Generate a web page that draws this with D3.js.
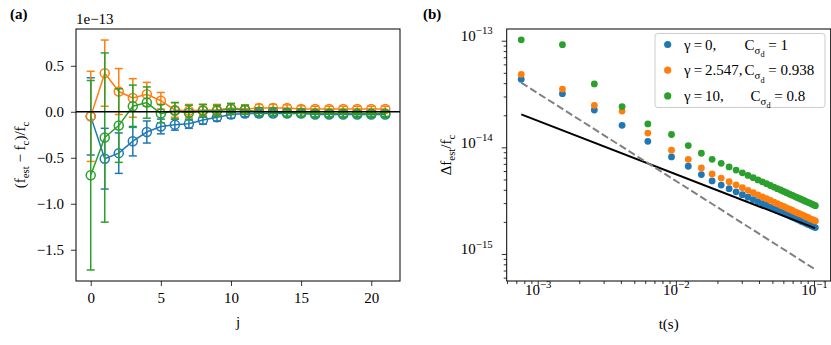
<!DOCTYPE html>
<html>
<head>
    <meta charset="utf-8">
    <title>chart</title>
</head>
<body style="margin:0">
    <script src="https://cdn.jsdelivr.net/npm/d3@7/dist/d3.min.js"></script>
    <script>
        // ---- panel (a): (f_est - f_c)/f_c in units of 1e-13 ----
        var jVals = [0, 1, 2, 3, 4, 5, 6, 7, 8, 9, 10, 11, 12, 13, 14, 15, 16, 17, 18, 19, 20, 21];
        var blueA = [-0.05, -0.51, -0.45, -0.32, -0.22, -0.16, -0.14, -0.13, -0.09, -0.06, -0.03, -0.02, -0.02, -0.02, -0.02, -0.02, -0.03, -0.03, -0.03, -0.03, -0.03, -0.03];
        var blueErr = [0.42, 0.33, 0.22, 0.16, 0.12, 0.08, 0.06, 0.05, 0.045, 0.04, 0.04, 0.035, 0.035, 0.03, 0.03, 0.03, 0.03, 0.03, 0.03, 0.03, 0.03, 0.03];
        var orangeA = [-0.05, 0.42, 0.22, 0.15, 0.19, 0.12, 0.02, 0.01, 0.02, 0.02, 0.04, 0.03, 0.04, 0.04, 0.04, 0.03, 0.03, 0.03, 0.03, 0.03, 0.03, 0.03];
        var orangeErr = [0.49, 0.36, 0.25, 0.21, 0.13, 0.09, 0.08, 0.07, 0.06, 0.06, 0.05, 0.045, 0.04, 0.04, 0.035, 0.035, 0.03, 0.03, 0.03, 0.03, 0.03, 0.03];
        var greenA = [-0.69, -0.28, -0.15, 0.06, 0.10, -0.02, 0.01, -0.01, 0.01, 0.01, 0.03, 0.02, 0.00, 0.00, -0.01, -0.01, -0.02, -0.02, -0.02, -0.02, -0.02, -0.02];
        var greenErr = [1.03, 0.92, 0.40, 0.23, 0.17, 0.10, 0.09, 0.08, 0.07, 0.06, 0.06, 0.05, 0.045, 0.04, 0.04, 0.04, 0.035, 0.035, 0.035, 0.03, 0.03, 0.03];
        var yTicksA = [0.5, 0.0, -0.5, -1.0, -1.5];
        var xTicksA = [0, 5, 10, 15, 20];

        // ---- panel (b): delta f_est / f_c in units of 1e-15 ----
        var tVals = [0.00076, 0.00151, 0.00257, 0.00408, 0.00627, 0.0093, 0.0123, 0.0153,
            0.0183, 0.0213, 0.0243, 0.0273, 0.0303, 0.0333, 0.0363, 0.0393, 0.0423, 0.0453,
            0.0483, 0.0513, 0.0543, 0.0573, 0.0603, 0.0633, 0.0663, 0.0693, 0.0723, 0.0753,
            0.0783, 0.0813, 0.0843, 0.0873, 0.0903, 0.0933, 0.0963, 0.0993, 0.1023];
        var blueB = [43.5, 31.9, 22.4, 16.1, 11.4, 8.13, 6.65, 5.55,
            4.84, 4.43, 4.10, 3.83, 3.60, 3.41, 3.24, 3.10, 2.97, 2.85,
            2.74, 2.65, 2.56, 2.48, 2.41, 2.34, 2.28, 2.22, 2.17, 2.12,
            2.07, 2.02, 1.98, 1.94, 1.90, 1.87, 1.83, 1.80, 1.77];
        var orangeB = [48.4, 35.2, 24.8, 21.9, 13.6, 9.4, 7.73, 6.41,
            5.63, 5.15, 4.76, 4.45, 4.18, 3.95, 3.76, 3.59, 3.43, 3.30,
            3.18, 3.07, 2.96, 2.87, 2.79, 2.71, 2.63, 2.57, 2.50, 2.44,
            2.39, 2.34, 2.29, 2.24, 2.20, 2.15, 2.11, 2.08, 2.04];
        var greenB = [102, 91.8, 39.3, 24.1, 16.6, 13.2, 10.4, 8.8,
            7.73, 7.08, 6.55, 6.12, 5.77, 5.46, 5.19, 4.95, 4.75, 4.56,
            4.39, 4.24, 4.10, 3.98, 3.86, 3.75, 3.65, 3.56, 3.47, 3.39,
            3.32, 3.25, 3.18, 3.11, 3.05, 3.00, 2.94, 2.89, 2.84];
        var lineT = [0.00076, 0.1017];
        var solidB = [20.4, 1.75];
        var dashedB = [40.4, 0.719];

        var gammaLabels = ["0,", "2.547,", "10,"];
        var cLabels = ["1", "0.938", "0.8"];
        var colors = ["#1f77b4", "#ff7f0e", "#2ca02c"];

        var SERIF = "Liberation Serif";
        var width = 831, height = 345;
        var svg = d3.select("body").append("svg")
            .attr("width", width)
            .attr("height", height)
            .attr("font-family", SERIF)
            .style("display", "block");
        svg.append("style").text("text, tspan { font-family: 'Liberation Serif', 'Times New Roman', serif !important; }");
        svg.append("rect").attr("width", width).attr("height", height).attr("fill", "#fff");

        function label(parent) {
            return parent.append("text")
                .attr("font-family", SERIF)
                .attr("font-size", 15)
                .attr("fill", "#000");
        }
        // text with sub/superscripts: parts = [[string, level]] level 0 normal, 1 sub, 2 subsub, -1 sup
        function rich(sel, parts, size) {
            var cur = 0;
            parts.forEach(function(p) {
                var off = p[1] === 1 ? 0.28 * size : p[1] === 2 ? 0.5 * size : p[1] === -1 ? -0.45 * size : 0;
                var fs = p[1] === 0 ? size : p[1] === 2 ? size * 0.55 : size * 0.72;
                sel.append("tspan").attr("dy", off - cur).attr("font-size", fs).text(p[0]);
                cur = off;
            });
            return sel;
        }
        function styleAxis(g) {
            g.attr("font-family", SERIF).attr("font-size", 15);
            g.selectAll(".tick text").attr("fill", "#000");
            g.selectAll(".tick line").attr("stroke-width", 0.8);
            g.select(".domain").remove();
        }

        // ================= panel (a) =================
        var ax = { left: 76, right: 400, top: 29, bottom: 281 };
        var xA = d3.scaleLinear().domain([-1.05, 22.05]).range([ax.left, ax.right]);
        var yA = d3.scaleLinear().domain([-1.84, 0.9]).range([ax.bottom, ax.top]);

        svg.append("g").attr("transform", "translate(0," + ax.bottom + ")")
            .call(d3.axisBottom(xA).tickValues(xTicksA).tickSize(5).tickPadding(6).tickSizeOuter(0))
            .call(styleAxis);
        svg.append("g").attr("transform", "translate(" + ax.left + ",0)")
            .call(d3.axisLeft(yA).tickValues(yTicksA).tickSize(5).tickPadding(7).tickSizeOuter(0)
                .tickFormat(function(d) { return d3.format(".1f")(d).replace("-", "\u2212"); }))
            .call(styleAxis);

        var seriesA = [
            { v: blueA, e: blueErr, c: colors[0] },
            { v: orangeA, e: orangeErr, c: colors[1] },
            { v: greenA, e: greenErr, c: colors[2] }
        ];
        var plotA = svg.append("g");
        seriesA.forEach(function(s) {
            var g = plotA.append("g");
            var bars = g.selectAll(".bar").data(jVals).enter().append("g");
            bars.append("line")
                .attr("x1", function(d) { return xA(d); })
                .attr("x2", function(d) { return xA(d); })
                .attr("y1", function(d, i) { return yA(s.v[i] - s.e[i]); })
                .attr("y2", function(d, i) { return yA(s.v[i] + s.e[i]); })
                .attr("stroke", s.c).attr("stroke-width", 1.5);
            [-1, 1].forEach(function(sign) {
                bars.append("line")
                    .attr("x1", function(d) { return xA(d) - 4; })
                    .attr("x2", function(d) { return xA(d) + 4; })
                    .attr("y1", function(d, i) { return yA(s.v[i] + sign * s.e[i]); })
                    .attr("y2", function(d, i) { return yA(s.v[i] + sign * s.e[i]); })
                    .attr("stroke", s.c).attr("stroke-width", 1.5);
            });
            var line = d3.line()
                .x(function(d) { return xA(d); })
                .y(function(d, i) { return yA(s.v[i]); });
            g.append("path").datum(jVals).attr("d", line)
                .attr("fill", "none").attr("stroke", s.c).attr("stroke-width", 1.5);
            g.selectAll("circle").data(jVals).enter().append("circle")
                .attr("cx", function(d) { return xA(d); })
                .attr("cy", function(d, i) { return yA(s.v[i]); })
                .attr("r", 4.5)
                .attr("fill", "none").attr("stroke", s.c).attr("stroke-width", 1.5);
        });
        svg.append("line")
            .attr("x1", ax.left).attr("x2", ax.right)
            .attr("y1", yA(0)).attr("y2", yA(0))
            .attr("stroke", "#000").attr("stroke-width", 1.5);
        svg.append("rect")
            .attr("x", ax.left).attr("y", ax.top)
            .attr("width", ax.right - ax.left).attr("height", ax.bottom - ax.top)
            .attr("fill", "none").attr("stroke", "#000").attr("stroke-width", 1);

        label(svg).attr("x", ax.left).attr("y", 24).text("1e\u221213");
        label(svg).attr("x", 10).attr("y", 19).attr("font-weight", "bold").text("(a)");
        label(svg).attr("x", (ax.left + ax.right) / 2).attr("y", 327)
            .attr("text-anchor", "middle").text("j");
        rich(label(svg)
            .attr("transform", "translate(25," + (ax.top + ax.bottom) / 2 + ") rotate(-90)")
            .attr("text-anchor", "middle"),
            [["(f", 0], ["est", 1], [" \u2212 f", 0], ["c", 1], [")/f", 0], ["c", 1]], 15);

        // ================= panel (b) =================
        var bx = { left: 506.7, right: 830.7, top: 29, bottom: 281 };
        var xB = d3.scaleLog().domain([5.965e-4, 0.1321]).range([bx.left, bx.right]);
        var yB = d3.scaleLog().domain([0.558, 128.8]).range([bx.bottom, bx.top]);

        var xMinor = [], yMinor = [];
        [1e-4, 1e-3, 1e-2].forEach(function(p) {
            for (var k = 2; k <= 9; k++) xMinor.push(k * p);
        });
        [0.1, 1, 10].forEach(function(p) {
            for (var k = 2; k <= 9; k++) yMinor.push(k * p);
        });
        xMinor = xMinor.filter(function(d) { return d >= xB.domain()[0] && d <= xB.domain()[1]; });
        yMinor = yMinor.filter(function(d) { return d >= yB.domain()[0] && d <= yB.domain()[1]; });

        svg.append("g").attr("transform", "translate(0," + bx.bottom + ")")
            .call(d3.axisBottom(xB).tickValues(xMinor).tickSize(3).tickFormat(""))
            .call(styleAxis);
        svg.append("g").attr("transform", "translate(" + bx.left + ",0)")
            .call(d3.axisLeft(yB).tickValues(yMinor).tickSize(3).tickFormat(""))
            .call(styleAxis);

        var gxB = svg.append("g").attr("transform", "translate(0," + bx.bottom + ")")
            .call(d3.axisBottom(xB).tickValues([1e-3, 1e-2, 1e-1]).tickSize(5).tickPadding(9).tickFormat(""))
            .call(styleAxis);
        gxB.selectAll(".tick text").each(function(d) {
            var e = Math.round(Math.log10(d));
            rich(d3.select(this), [["10", 0], ["\u2212" + Math.abs(e), -1]], 15);
        });
        var gyB = svg.append("g").attr("transform", "translate(" + bx.left + ",0)")
            .call(d3.axisLeft(yB).tickValues([1, 10, 100]).tickSize(5).tickPadding(9).tickFormat(""))
            .call(styleAxis);
        gyB.selectAll(".tick text").each(function(d) {
            var e = Math.round(Math.log10(d)) - 15;
            rich(d3.select(this).attr("dy", "0.55em"), [["10", 0], ["\u2212" + Math.abs(e), -1]], 15);
        });

        var plotB = svg.append("g");
        [blueB, orangeB, greenB].forEach(function(vals, si) {
            plotB.append("g").selectAll("circle").data(tVals).enter().append("circle")
                .attr("cx", function(d) { return xB(d); })
                .attr("cy", function(d, i) { return yB(vals[i]); })
                .attr("r", 3.4)
                .attr("fill", colors[si]);
        });
        var lineB = d3.line()
            .x(function(d) { return xB(d[0]); })
            .y(function(d) { return yB(d[1]); });
        plotB.append("path").datum(d3.zip(lineT, solidB)).attr("d", lineB)
            .attr("fill", "none").attr("stroke", "#000").attr("stroke-width", 2);
        plotB.append("path").datum(d3.zip(lineT, dashedB)).attr("d", lineB)
            .attr("fill", "none").attr("stroke", "#808080").attr("stroke-width", 2)
            .attr("stroke-dasharray", "7.4,3.2");

        svg.append("rect")
            .attr("x", bx.left).attr("y", bx.top)
            .attr("width", bx.right - bx.left).attr("height", bx.bottom - bx.top)
            .attr("fill", "none").attr("stroke", "#000").attr("stroke-width", 1);

        // legend: the C column starts after the widest gamma label
        var lg = svg.append("g").attr("transform", "translate(655,33.5)");
        lg.append("rect").attr("width", 170).attr("height", 74).attr("rx", 3)
            .attr("fill", "#fff").attr("fill-opacity", 0.8)
            .attr("stroke", "#cccccc").attr("stroke-width", 1);
        var gTexts = gammaLabels.map(function(gl, i) {
            var cy = 11 + i * 25.7;
            lg.append("circle").attr("cx", 12.7).attr("cy", cy).attr("r", 3.6).attr("fill", colors[i]);
            return label(lg).attr("x", 29).attr("y", cy + 5).text("\u03b3\u2009=\u2009" + gl);
        });
        var gw = d3.max(gTexts, function(t) { return t.node().getComputedTextLength(); });
        var cStart = Math.min(29 + gw + 2, 90);
        gammaLabels.forEach(function(gl, i) {
            var cy = 11 + i * 25.7;
            rich(label(lg).attr("x", cStart + (i === 2 ? 6 : 0)).attr("y", cy + 5),
                [["C", 0], ["\u03c3", 1], ["d", 2], [" = " + cLabels[i], 0]], 15);
        });

        label(svg).attr("x", 423).attr("y", 19).attr("font-weight", "bold").text("(b)");
        label(svg).attr("x", (bx.left + bx.right) / 2).attr("y", 329)
            .attr("text-anchor", "middle").text("t(s)");
        rich(label(svg)
            .attr("transform", "translate(451," + (bx.top + bx.bottom) / 2 + ") rotate(-90)")
            .attr("text-anchor", "middle"),
            [["\u0394f", 0], ["est", 1], ["/f", 0], ["c", 1]], 15);
    </script>
</body>
</html>
